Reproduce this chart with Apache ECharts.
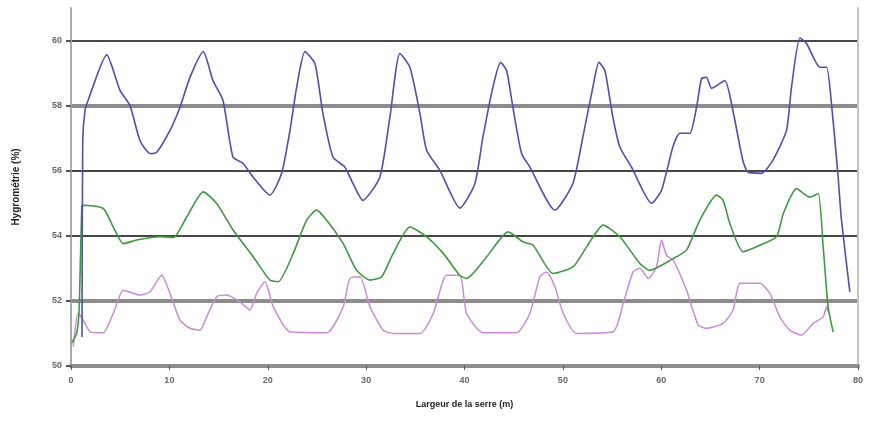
<!DOCTYPE html>
<html>
<head>
<meta charset="utf-8">
<script src="https://cdn.jsdelivr.net/npm/echarts@6/dist/echarts.min.js"></script>
<style>
html,body{margin:0;padding:0;background:#fff;}
#chart{width:874px;height:422px;}
</style>
</head>
<body>
<div id="chart"></div>
<script>
// Tick labels
const yTicks = [50, 52, 54, 56, 58, 60];
const xTicks = [0, 10, 20, 30, 40, 50, 60, 70, 80];

// Blue series (top)
const blueX = [1.12,1.19,1.42,1.73,3.63,4.98,6.0,7.01,8.03,8.71,10.06,11.08,12.09,13.45,14.43,15.45,16.46,17.48,18.5,20.22,21.41,22.26,22.94,23.78,24.8,25.61,26.63,27.85,28.66,29.67,31.4,32.42,33.43,34.45,35.47,36.15,37.5,39.53,41.06,41.87,42.89,43.67,44.28,44.92,45.8,46.65,49.19,51.02,52.03,53.05,53.66,54.27,55.08,55.79,56.98,59.01,60.03,61.18,61.89,62.9,63.59,64.1,64.6,65.11,66.46,67.28,68.29,68.8,70.19,71.34,72.73,73.24,74.09,74.77,76.12,76.8,77.3,77.95,78.32,79.17];
const blueY = [50.89,56.87,57.85,58.16,59.56,58.47,58.0,56.93,56.53,56.57,57.24,57.95,58.87,59.66,58.77,58.16,56.42,56.23,55.81,55.25,55.92,57.24,58.57,59.66,59.29,57.76,56.42,56.11,55.61,55.09,55.81,57.65,59.6,59.18,57.76,56.63,56.01,54.85,55.61,57.03,58.57,59.33,59.08,57.95,56.53,56.11,54.79,55.61,57.03,58.57,59.33,59.08,57.65,56.73,56.11,55.0,55.4,56.73,57.15,57.15,57.95,58.83,58.87,58.53,58.77,57.85,56.32,55.96,55.92,56.32,57.24,58.57,60.08,59.91,59.18,59.18,58.07,55.92,54.48,52.28];

// Green series (middle)
const greenX = [0.07,0.58,0.84,1.09,1.25,3.28,4.3,5.32,6.68,9.04,10.4,11.76,13.45,14.81,16.49,18.53,20.22,21.07,22.59,23.95,24.97,25.99,27.67,29.03,30.39,31.58,32.75,34.45,36.15,37.84,39.53,40.21,42.25,44.44,45.97,46.98,49.01,51.05,52.41,54.1,55.79,57.83,58.84,61.21,62.57,63.92,65.62,66.29,66.97,68.32,70.02,71.72,72.4,73.75,75.1,75.95,76.46,76.96,77.47];
const greenY = [50.71,51.01,51.82,54.89,54.94,54.84,54.27,53.76,53.87,53.97,53.95,54.58,55.35,54.99,54.17,53.35,52.64,52.59,53.46,54.48,54.79,54.48,53.76,52.94,52.64,52.74,53.46,54.27,53.97,53.46,52.78,52.69,53.35,54.12,53.81,53.71,52.84,53.05,53.66,54.33,53.97,53.15,52.94,53.3,53.56,54.48,55.25,55.09,54.38,53.51,53.71,53.97,54.68,55.45,55.19,55.3,53.66,51.82,51.05];

// Pink series (bottom)
const pinkX = [0.23,0.74,1.42,1.93,3.28,4.3,5.32,7.01,8.03,9.22,10.06,11.08,12.09,13.11,13.79,14.81,15.82,17.17,18.19,18.87,19.72,20.56,22.26,25.99,27.67,28.35,29.37,30.39,31.74,32.75,35.47,36.83,38.18,39.53,40.21,41.9,45.29,46.65,47.66,48.34,49.19,50.03,51.39,55.11,56.13,57.14,57.83,58.67,59.52,60.03,60.54,61.21,62.57,63.75,64.6,66.29,67.31,67.99,70.02,71.04,72.05,73.07,74.26,75.44,76.46,76.8,76.96];
const pinkY = [50.59,51.63,51.32,51.05,51.02,51.62,52.33,52.18,52.28,52.79,52.23,51.41,51.16,51.1,51.51,52.13,52.18,51.97,51.72,52.23,52.59,51.82,51.05,51.02,51.82,52.69,52.74,51.82,51.1,51.0,51.0,51.62,52.79,52.79,51.62,51.02,51.02,51.62,52.74,52.89,52.43,51.62,51.0,51.05,51.92,52.89,53.0,52.69,53.05,53.87,53.4,53.25,52.33,51.26,51.16,51.31,51.72,52.54,52.54,52.23,51.51,51.1,50.95,51.31,51.51,51.82,51.67];

function zip(xs, ys) { return xs.map((x, i) => [x, ys[i]]); }

const chart = echarts.init(document.getElementById('chart'), null, {renderer: 'canvas'});
const labelFont = {fontFamily: 'Liberation Sans, Arial, sans-serif', fontSize: 9, fontWeight: 'bold', color: '#666'};

chart.setOption({
  backgroundColor: '#ffffff',
  animation: false,
  grid: {left: 71, right: 16, top: 8, bottom: 56, containLabel: false, outerBoundsMode: 'none'},
  xAxis: {
    type: 'value', min: 0, max: 80, interval: 10,
    axisLine: {show: true, onZero: false, lineStyle: {color: '#8c8c8c', width: 4}},
    axisTick: {show: true, inside: false, length: 4, lineStyle: {color: '#555', width: 1}},
    axisLabel: Object.assign({margin: 10, customValues: xTicks}, labelFont),
    splitLine: {show: false},
    name: 'Largeur de la serre (m)', nameLocation: 'middle', nameGap: 34,
    nameTextStyle: {fontFamily: 'Liberation Sans, Arial, sans-serif', fontSize: 9, fontWeight: 'bold', color: '#222'}
  },
  yAxis: [{
    type: 'value', min: 50, max: 61, interval: 2, position: 'left',
    axisLine: {show: true, onZero: false, lineStyle: {color: '#aaa', width: 2}},
    axisTick: {show: true, inside: false, length: 5, customValues: yTicks, lineStyle: {color: '#555', width: 2}},
    axisLabel: Object.assign({margin: 9, customValues: yTicks}, labelFont),
    splitLine: {show: true, lineStyle: {color: ['rgba(0,0,0,0)', 'rgba(0,0,0,0)', '#474747', '#474747', 'rgba(0,0,0,0)', '#474747'], width: 2}},
    name: 'Hygrométrie (%)', nameLocation: 'middle', nameGap: 50, nameRotate: 90,
    nameTextStyle: {fontFamily: 'Liberation Sans, Arial, sans-serif', fontSize: 10, fontWeight: 'bold', color: '#222'}
  }, {
    type: 'value', min: 50, max: 61, interval: 2, position: 'right',
    axisLine: {show: true, onZero: false, lineStyle: {color: '#c4c4c4', width: 2}},
    axisTick: {show: false, customValues: [52, 58]},
    axisLabel: {show: false},
    splitLine: {show: true, lineStyle: {color: '#8c8c8c', width: 4}}
  }],
  series: [
    {type: 'line', name: 'blue', data: zip(blueX, blueY), showSymbol: false, smooth: 0.2,
     lineStyle: {color: '#4f4fae', width: 1.6}, itemStyle: {color: '#4f4fae'}, z: 5},
    {type: 'line', name: 'green', data: zip(greenX, greenY), showSymbol: false, smooth: 0.2,
     lineStyle: {color: '#3f9a3f', width: 1.6}, itemStyle: {color: '#3f9a3f'}, z: 4},
    {type: 'line', name: 'pink', data: zip(pinkX, pinkY), showSymbol: false, smooth: 0.2,
     lineStyle: {color: '#c98bd8', width: 1.5}, itemStyle: {color: '#c98bd8'}, z: 3}
  ]
});
</script>
</body>
</html>
